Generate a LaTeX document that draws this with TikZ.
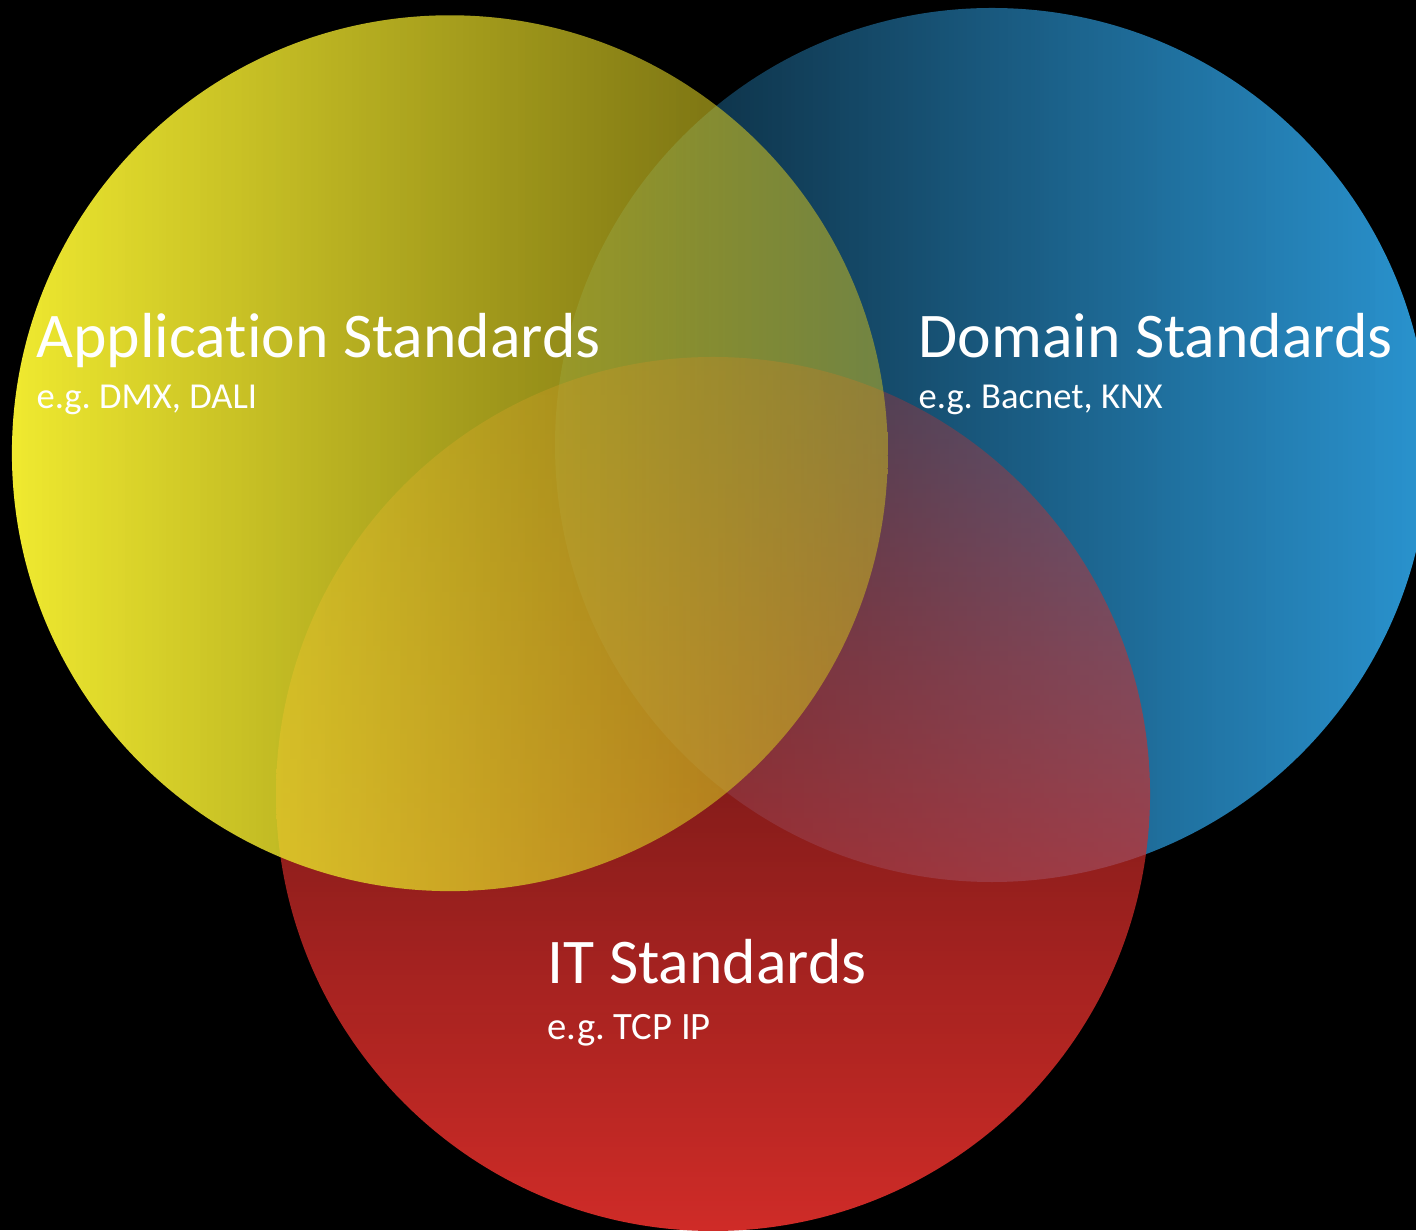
\documentclass[tikz,border=0pt]{standalone}
\usepackage{fontspec}
\setmainfont{Carlito}[Ligatures=NoCommon]
\usetikzlibrary{fadings}

\definecolor{ylwL}{RGB}{240,234,48}
\definecolor{ylwR}{RGB}{205,190,30}
\definecolor{bluL}{RGB}{40,140,200}
\definecolor{bluR}{RGB}{42,148,208}
\definecolor{redT}{RGB}{210,45,42}
\definecolor{redB}{RGB}{208,44,40}

% the discs get lighter towards one side
\tikzfading[name=fadeylw, left color=transparent!0, right color=transparent!50]
\tikzfading[name=fadeblu, left color=transparent!76, right color=transparent!0]
\tikzfading[name=fadered, top color=transparent!70, bottom color=transparent!0]

\tikzset{
  title/.style={text=white, inner sep=0pt, anchor=base west, font=\fontsize{18.1}{21}\selectfont},
  example/.style={text=white, inner sep=0pt, anchor=base west, font=\fontsize{10.4}{12}\selectfont}
}

\begin{document}
\frenchspacing
\begin{tikzpicture}[x=0.01cm,y=-0.01cm]
  % Background
  \fill[black] (0,0) rectangle (1416,1230);
  \useasboundingbox (0,0) rectangle (1416,1230);

  % Draw the circles
  \shade[left color=bluL, right color=bluR, path fading=fadeblu] (992,445) circle (437);
  \shade[top color=redT, bottom color=redB, path fading=fadered] (713,794) circle (437);
  \shade[left color=ylwL, right color=ylwR, path fading=fadeylw] (450,453) circle (438);

  % Labels
  \node[title] (app) at (36,357) {Application Standards};
  \node[example] (appeg) at (36,408) {e.g. DMX, DALI};
  \node[title] (dom) at (918,357) {Domain Standards};
  \node[example] (domeg) at (918,408) {e.g. Bacnet, KNX};
  \node[title] (it) at (547,983) {IT Standards};
  \node[example, font=\fontsize{11}{13}\selectfont] (iteg) at (547,1039) {e.g. TCP IP};
\end{tikzpicture}
\end{document}
